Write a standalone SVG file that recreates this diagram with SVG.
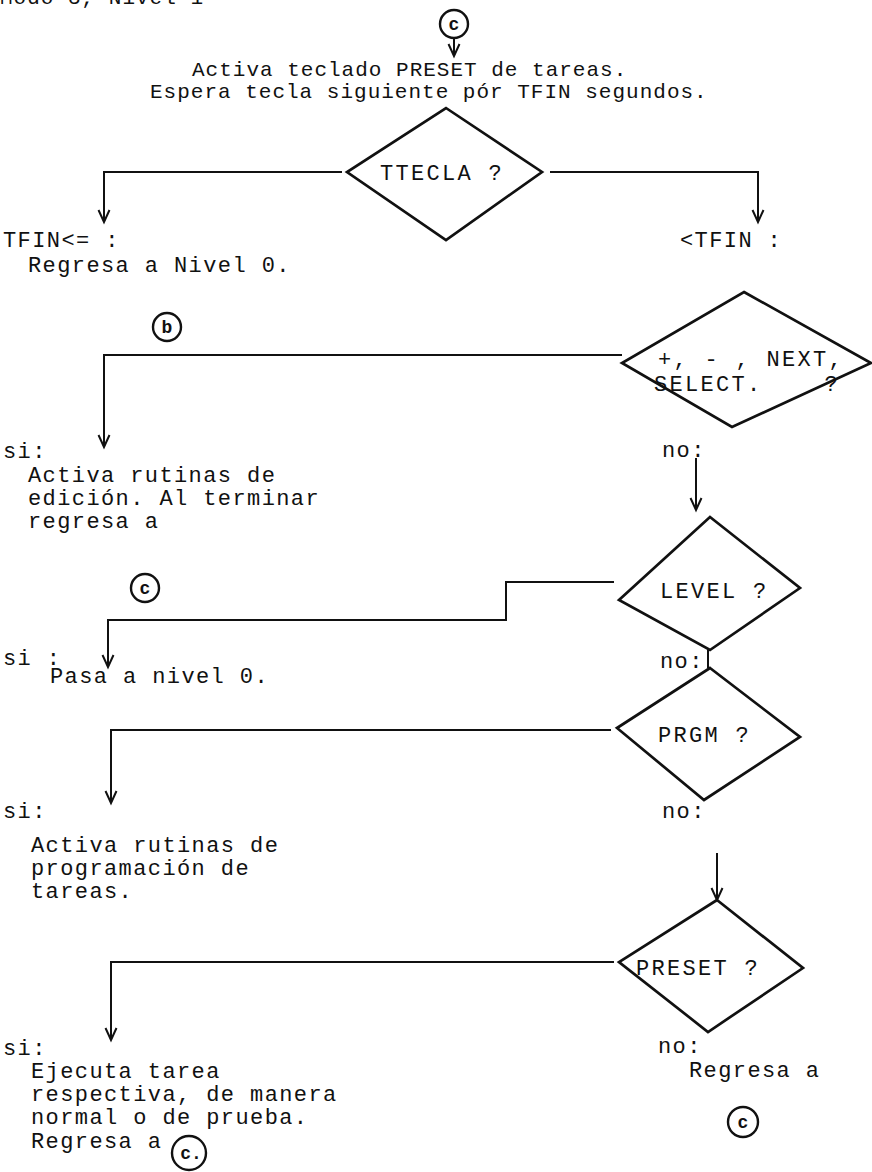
<svg xmlns="http://www.w3.org/2000/svg" width="872" height="1172" viewBox="0 0 872 1172">
<style>
text{font-family:"Liberation Mono","DejaVu Sans Mono",monospace;font-size:22px;letter-spacing:1.4px;fill:#111;white-space:pre}
.hd{font-size:21px;letter-spacing:1px}
.dl{font-size:22px;letter-spacing:2.3px}
.cl{font-size:18px;letter-spacing:0;text-anchor:middle;font-weight:bold}
.ln{stroke:#111;stroke-width:2;fill:none}
.dm{stroke:#111;stroke-width:2.7;fill:none;stroke-linejoin:miter}
.cc{stroke:#111;stroke-width:2.4;fill:none}
</style>
<defs>
<marker id="ah" markerUnits="userSpaceOnUse" markerWidth="14" markerHeight="12" refX="12" refY="5.5" orient="auto" overflow="visible">
<path d="M0,0 L12,5.5 L0,11" fill="none" stroke="#111" stroke-width="2"/>
</marker>
</defs>
<rect width="872" height="1172" fill="#fff"/>
<text class="hd" x="0" y="4">Modo 3, Nivel 1</text>
<g id="connectors">
<path class="ln" d="M454,38 V56" marker-end="url(#ah)"/>
<path class="ln" d="M342,172 H104 V222" marker-end="url(#ah)"/>
<path class="ln" d="M550,172 H758 V222" marker-end="url(#ah)"/>
<path class="ln" d="M622,355 H104 V447" marker-end="url(#ah)"/>
<path class="ln" d="M696,458 V510" marker-end="url(#ah)"/>
<path class="ln" d="M614,582 H506 V620 H108 V667" marker-end="url(#ah)"/>
<path class="ln" d="M708,650 V668"/>
<path class="ln" d="M611,730 H111 V803" marker-end="url(#ah)"/>
<path class="ln" d="M717,853 V900" marker-end="url(#ah)"/>
<path class="ln" d="M614,962 H111 V1040" marker-end="url(#ah)"/>
</g>
<g id="start-c">
<circle class="cc" cx="454" cy="24" r="14"/>
<text class="cl" x="454" y="30">c</text>
</g>
<g id="header">
<text class="hd" x="192" y="76">Activa teclado PRESET de tareas.</text>
<text class="hd" x="150" y="98">Espera tecla siguiente pór TFIN segundos.</text>
</g>
<g id="ttecla">
<polygon class="dm" points="446,108 542,172 446,240 347,172"/>
<text class="dl" x="380" y="180">TTECLA ?</text>
</g>
<g id="tfin-ge">
<text x="3" y="247">TFIN&lt;= :</text>
<text x="28" y="272">Regresa a Nivel 0.</text>
</g>
<g id="tfin-lt">
<text x="680" y="247">&lt;TFIN :</text>
</g>
<g id="circle-b">
<circle class="cc" cx="167" cy="327" r="14"/>
<text class="cl" x="167" y="333">b</text>
</g>
<g id="keys">
<polygon class="dm" points="744,292 871,363 732,427 622,363"/>
<text class="dl" x="658" y="366">+, - , NEXT,</text>
<text class="dl" x="654" y="391">SELECT.    ?</text>
</g>
<g id="edicion">
<text x="3" y="458">si:</text>
<text x="28" y="482">Activa rutinas de</text>
<text x="28" y="505">edición. Al terminar</text>
<text x="28" y="528">regresa a</text>
</g>
<g id="no-keys"><text x="662" y="457">no:</text></g>
<g id="circle-c1">
<circle class="cc" cx="145" cy="588" r="14"/>
<text class="cl" x="145" y="594">c</text>
</g>
<g id="level">
<polygon class="dm" points="710,517 800,588 710,650 619,600"/>
<text class="dl" x="660" y="598">LEVEL ?</text>
</g>
<g id="nivel0">
<text x="3" y="665">si :</text>
<text x="50" y="683">Pasa a nivel 0.</text>
</g>
<g id="no-level"><text x="660" y="668">no:</text></g>
<g id="prgm">
<polygon class="dm" points="710,668 800,737 704,800 617,728"/>
<text class="dl" x="658" y="742">PRGM ?</text>
</g>
<g id="programacion">
<text x="3" y="818">si:</text>
<text x="31" y="852">Activa rutinas de</text>
<text x="31" y="875">programación de</text>
<text x="31" y="898">tareas.</text>
</g>
<g id="no-prgm"><text x="662" y="818">no:</text></g>
<g id="preset">
<polygon class="dm" points="717,900 803,968 708,1032 619,962"/>
<text class="dl" x="636" y="975">PRESET ?</text>
</g>
<g id="ejecuta">
<text x="3" y="1055">si:</text>
<text x="31" y="1078">Ejecuta tarea</text>
<text x="31" y="1101">respectiva, de manera</text>
<text x="31" y="1124">normal o de prueba.</text>
<text x="31" y="1148">Regresa a</text>
<circle class="cc" cx="189" cy="1153" r="17"/>
<text class="cl" x="191" y="1159">c.</text>
</g>
<g id="no-preset">
<text x="658" y="1053">no:</text>
<text x="689" y="1077">Regresa a</text>
<circle class="cc" cx="743" cy="1122" r="15"/>
<text class="cl" x="743" y="1128">c</text>
</g>
</svg>
